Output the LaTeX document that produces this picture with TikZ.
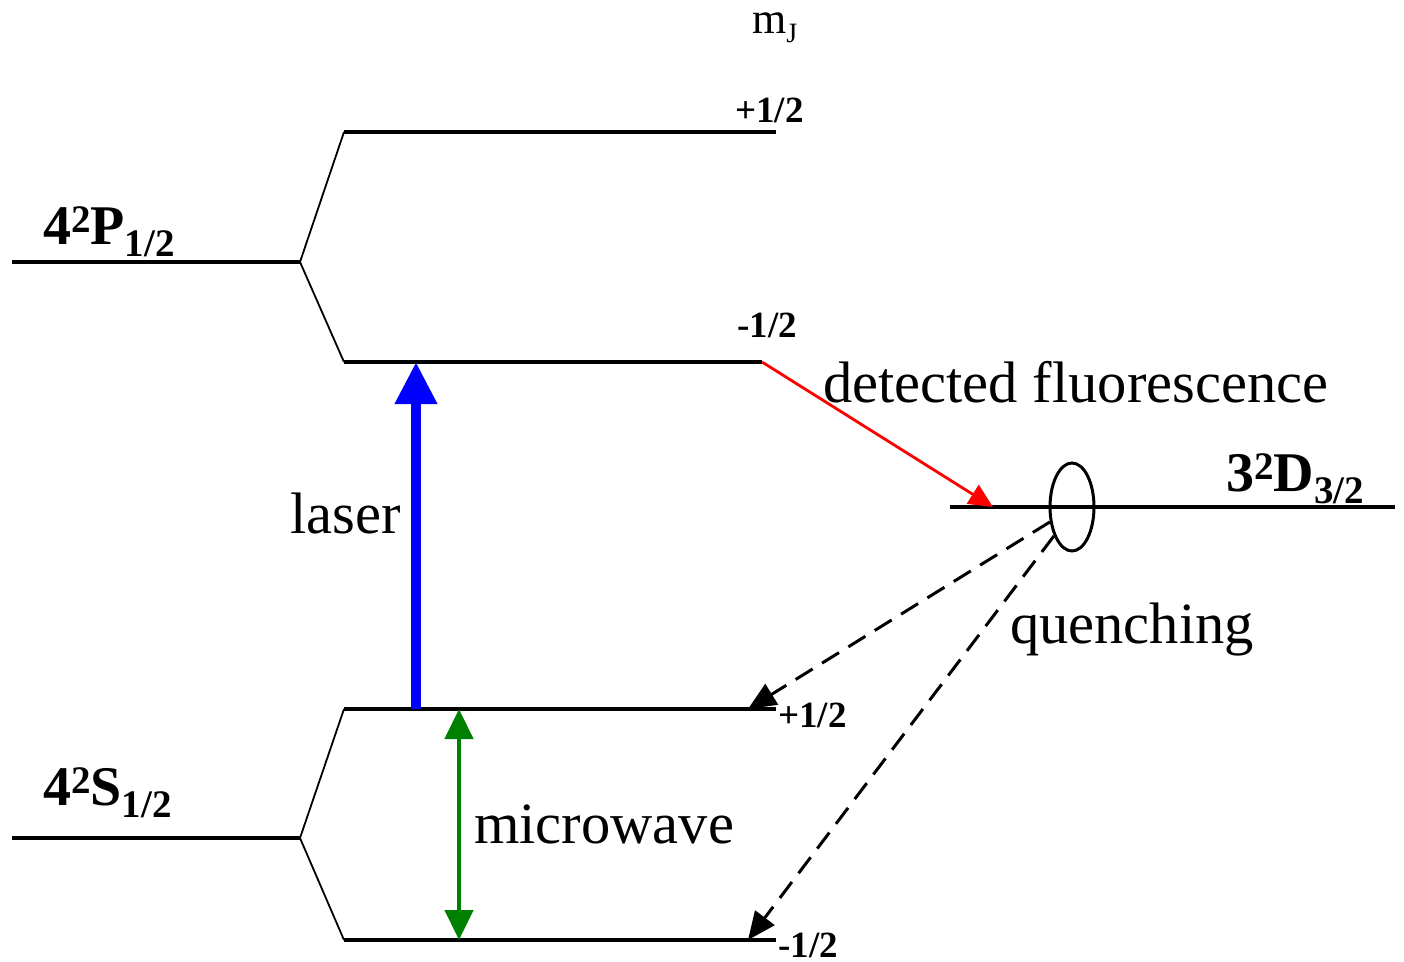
\documentclass[tikz,border=0pt]{standalone}
\usepackage{fontspec}
\setmainfont{Liberation Serif}
\usetikzlibrary{arrows.meta,shapes.geometric}
\newcommand{\statelab}[3]{#1\raisebox{12pt}{\fontsize{39}{42}\selectfont 2}#2\raisebox{-12pt}{\fontsize{39}{42}\selectfont #3}}
\tikzset{
  level/.style={line width=3.5pt},
  splitline/.style={line width=1.8pt},
  txt/.style={inner sep=0pt, anchor=base west},
  biglabel/.style={txt, font=\fontsize{58.5}{62}\selectfont},
  statelabel/.style={txt, font=\fontsize{56}{60}\selectfont\bfseries},
  mjlabel/.style={txt, font=\fontsize{37}{40}\selectfont\bfseries},
  laserarrow/.style={line width=10pt, draw={rgb,255:red,0;green,0;blue,255}, -{Triangle[width=40pt,length=42pt]}},
  mwarrow/.style={line width=4.5pt, draw={rgb,255:red,0;green,128;blue,0}, {Triangle[width=28pt,length=30pt]}-{Triangle[width=28pt,length=30pt]}},
  fluorarrow/.style={line width=2.8pt, draw=red, -{Triangle[width=22pt,length=24pt]}, fill=red},
  quencharrow/.style={line width=3pt, dash pattern=on 20pt off 11pt, -{Triangle[width=24pt,length=28pt]}},
}
\begin{document}
\begin{tikzpicture}[x=1pt,y=-1pt]
\useasboundingbox (0,0) rectangle (1404,961);
% P level
\coordinate (Pl) at (12,262);
\coordinate (Ps) at (300,262);
\coordinate (Pu1) at (344,132);
\coordinate (Pu2) at (776,132);
\coordinate (Pd1) at (344,362);
\coordinate (Pd2) at (762,362);
% S level
\coordinate (Sl) at (12,838);
\coordinate (Ss) at (300,838);
\coordinate (Su1) at (344,709);
\coordinate (Su2) at (776,709);
\coordinate (Sd1) at (344,940);
\coordinate (Sd2) at (776,940);
% D level
\coordinate (Dl) at (950,507);
\coordinate (Dr) at (1395,507);

\draw[level] (Pl) -- (Ps);
\draw[splitline] (Pu1) -- (Ps) -- (Pd1);
\draw[level] (Pu1) -- (Pu2);
\draw[level] (Pd1) -- (Pd2);
\draw[level] (Sl) -- (Ss);
\draw[splitline] (Su1) -- (Ss) -- (Sd1);
\draw[level] (Su1) -- (Su2);
\draw[level] (Sd1) -- (Sd2);
\draw[level] (Dl) -- (Dr);

\node[ellipse, draw, line width=3pt, minimum width=44pt, minimum height=88pt, inner sep=0pt] (ell) at (1072,507) {};

% arrows
\coordinate (laserbot) at (416,709);
\coordinate (lasertop) at (416,362);
\draw[laserarrow] (laserbot) -- (lasertop);
\coordinate (mwtop) at (459,709);
\coordinate (mwbot) at (459,940);
\draw[mwarrow] (mwtop) -- (mwbot);
\coordinate (fluortip) at (993,507);
\draw[fluorarrow] (Pd2) -- (fluortip);
\coordinate (q1) at (748,709);
\coordinate (q2) at (748,940);
\draw[quencharrow] (ell.214) -- (q1);
\draw[quencharrow] (ell.238) -- (q2);

% labels
\node[txt, font=\fontsize{44}{48}\selectfont] (mj) at (752,33) {m\raisebox{-9pt}{\fontsize{28}{30}\selectfont J}};
\node[mjlabel] (mPu) at (735,122) {+1/2};
\node[mjlabel] (mPd) at (737,337) {-1/2};
\node[mjlabel] (mSu) at (778,727) {+1/2};
\node[mjlabel] (mSd) at (778,957) {-1/2};
\node[statelabel] (Plab) at (43,244) {\statelab{4}{P}{1/2}};
\node[statelabel] (Slab) at (43,805) {\statelab{4}{S}{1/2}};
\node[statelabel] (Dlab) at (1226,491) {\statelab{3}{D}{3/2}};
\node[biglabel] (fluor) at (823,402) {detected fluorescence};
\node[biglabel] (laser) at (290,533) {laser};
\node[biglabel] (mw) at (474,843) {microwave};
\node[biglabel] (quench) at (1010,643) {quenching};
\end{tikzpicture}
\end{document}
